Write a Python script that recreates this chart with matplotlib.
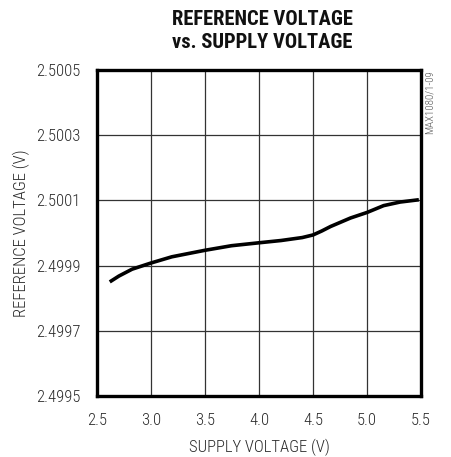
import matplotlib
matplotlib.use("Agg")
import matplotlib.pyplot as plt
from matplotlib import font_manager
from matplotlib.ticker import FixedLocator

# Reference output voltage measured against supply voltage
supply_v = [2.618, 2.703, 2.825, 3.000, 3.193, 3.377, 3.500, 3.745, 4.000,
            4.205, 4.400, 4.500, 4.580, 4.663, 4.847, 5.000, 5.154, 5.307, 5.480]
ref_v = [2.499850, 2.499868, 2.499889, 2.499908, 2.499927, 2.499939,
         2.499947, 2.499961, 2.499970, 2.499977, 2.499986, 2.499994,
         2.500006, 2.500020, 2.500046, 2.500063, 2.500084, 2.500095, 2.500102]

x_ticks = [2.5, 3.0, 3.5, 4.0, 4.5, 5.0, 5.5]
x_tick_labels = ["2.5", "3.0", "3.5", "4.0", "4.5", "5.0", "5.5"]
y_ticks = [2.4995, 2.4997, 2.4999, 2.5001, 2.5003, 2.5005]
y_tick_labels = ["2.4995", "2.4997", "2.4999", "2.5001", "2.5003", "2.5005"]


def pick_family(candidates, default="Liberation Sans"):
    installed = {f.name for f in font_manager.fontManager.ttflist}
    for name in candidates:
        if name in installed:
            return name
    return default


narrow = pick_family(["Arial Narrow", "Liberation Sans Narrow", "Nimbus Sans Narrow",
                      "Roboto Condensed", "Archivo Narrow", "PT Sans Narrow",
                      "Open Sans Condensed"])
plt.rcParams["font.family"] = [narrow, "DejaVu Sans"]

label_color = "#2a2a2a"

fig = plt.figure(figsize=(4.51, 4.57), dpi=100)
ax = fig.add_axes([0.2151, 0.1335, 0.7184, 0.7133])

ax.plot(supply_v, ref_v, color="black", linewidth=2.6,
        solid_capstyle="butt", solid_joinstyle="round")

ax.set_xlim(2.5, 5.5)
ax.set_ylim(2.4995, 2.5005)
ax.xaxis.set_major_locator(FixedLocator(x_ticks))
ax.yaxis.set_major_locator(FixedLocator(y_ticks))
ax.set_xticklabels(x_tick_labels, fontweight="light")
ax.set_yticklabels(y_tick_labels, fontweight="light")
ax.tick_params(axis="both", length=0, labelsize=12, colors=label_color)
ax.tick_params(axis="x", pad=12)
ax.tick_params(axis="y", pad=12)

ax.grid(True, color="#333333", linewidth=0.9)
for spine in ax.spines.values():
    spine.set_linewidth(2.4)
    spine.set_color("black")

ax.set_xlabel("SUPPLY VOLTAGE (V)", fontsize=12, color=label_color,
              fontweight="light", labelpad=8)
ax.set_ylabel("REFERENCE VOLTAGE (V)", fontsize=12, color=label_color,
              fontweight="light", labelpad=4)

fig.text(0.581, 0.932, "REFERENCE VOLTAGE\nvs. SUPPLY VOLTAGE", ha="center",
         va="center", fontsize=14.8, fontweight="bold", linespacing=1.3,
         color="#111111")
fig.text(0.953, 0.777, "MAX1080/1-09", rotation=90, ha="center", va="center",
         fontsize=7.8, fontweight="light", color="#555555")

fig.savefig("out.png", dpi=100)
